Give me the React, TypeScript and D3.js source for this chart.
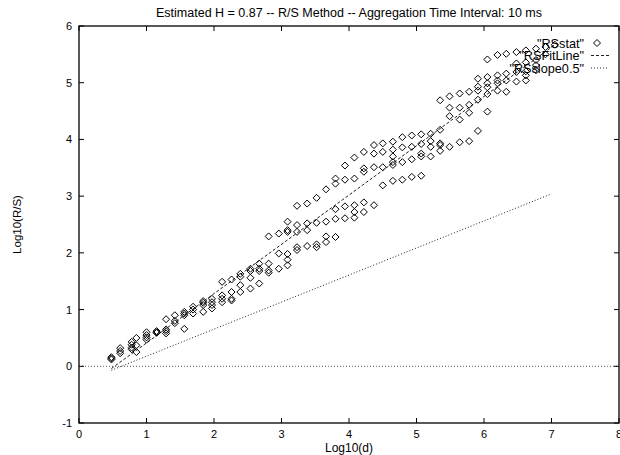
import React from "react";
import * as d3 from "d3";

const title = "Estimated H = 0.87 -- R/S Method -- Aggregation Time Interval: 10 ms";
const xTicks = [0, 1, 2, 3, 4, 5, 6, 7, 8];
const yTicks = [-1, 0, 1, 2, 3, 4, 5, 6];

// log10(d) columns and the R/S values observed at each
const logD = [
  0.48, 0.61, 0.78, 0.85, 1.0, 1.15, 1.29, 1.42, 1.56, 1.69, 1.84, 1.97, 2.12, 2.26, 2.39,
  2.54, 2.67, 2.81, 2.96, 3.09, 3.23, 3.38, 3.52, 3.66, 3.8, 3.94, 4.08, 4.22, 4.37, 4.5,
  4.65, 4.79, 4.93, 5.07, 5.21, 5.35, 5.49, 5.64, 5.78, 5.91, 6.05, 6.2, 6.33, 6.48, 6.62,
  6.77, 6.91, 7.05,
];
const logRS = [
  [0.14, 0.16, 0.12],
  [0.32, 0.27, 0.23],
  [0.43, 0.38, 0.3, 0.33],
  [0.5, 0.37, 0.25],
  [0.6, 0.51, 0.47, 0.55],
  [0.62, 0.59, 0.6],
  [0.83, 0.65, 0.58, 0.62],
  [0.9, 0.76, 0.8],
  [0.96, 0.9, 0.66, 0.93],
  [1.05, 0.93, 1.0],
  [1.15, 1.08, 0.96, 1.12],
  [1.19, 1.13, 1.08, 1.02],
  [1.49, 1.25, 1.19, 1.13],
  [1.53, 1.31, 1.19, 1.16],
  [1.63, 1.58, 1.43, 1.31],
  [1.72, 1.68, 1.56, 1.37],
  [1.81, 1.72, 1.68, 1.46],
  [2.29, 1.81, 1.69, 1.65],
  [2.34, 1.99, 1.72],
  [2.55, 2.4, 2.37, 1.98, 1.88, 1.78],
  [2.83, 2.49, 2.37, 2.1, 2.05],
  [2.87, 2.52, 2.4, 2.12],
  [2.97, 2.53, 2.1, 2.15],
  [3.12, 2.55, 2.29, 2.19],
  [3.31, 3.22, 2.77, 2.6, 2.28],
  [3.54, 3.29, 2.82, 2.61],
  [3.68, 3.31, 2.84, 2.72, 2.62],
  [3.78, 3.49, 3.43, 2.89, 2.72],
  [3.9, 3.75, 3.51, 2.84],
  [3.93, 3.78, 3.51, 3.19],
  [3.96, 3.82, 3.7, 3.6, 3.55, 3.27],
  [4.04, 3.86, 3.6, 3.29],
  [4.07, 3.87, 3.65, 3.34],
  [4.09, 3.92, 3.75, 3.7, 3.36],
  [4.1, 3.97, 3.87, 3.7],
  [4.69, 4.17, 3.93, 3.9, 3.8],
  [4.76, 4.56, 4.41, 3.87],
  [4.81, 4.56, 4.35, 3.95],
  [4.84, 4.61, 4.47, 3.97],
  [5.07, 4.93, 4.86, 4.7, 4.15],
  [5.41, 5.1, 4.99, 4.92, 4.8, 4.49],
  [5.49, 5.13, 5.04, 4.99, 4.86],
  [5.51, 5.16, 5.04, 4.84],
  [5.54, 5.34, 5.19, 5.02],
  [5.57, 5.36, 5.2, 5.13, 5.04],
  [5.6, 5.4, 5.31, 5.22],
  [5.63, 5.5],
  [5.67],
];
// fitted line (H = 0.87) and reference slope 0.5 line, endpoints in data units
const fitLine = [
  [0.48, -0.04],
  [7.05, 5.67],
];
const slopeHalfLine = [
  [0.48, -0.07],
  [7.0, 3.04],
];
const legendLabels = ['"RSstat"', '"RSFitLine"', '"RSslope0.5"'];

const W = 620;
const H = 455;
const left = 79;
const right = 619;
const top = 26;
const bottom = 423;
const font = "'Liberation Sans', Arial, Helvetica, sans-serif";

export default function App() {
  const x = d3.scaleLinear().domain([0, 8]).range([left, right]);
  const y = d3.scaleLinear().domain([-1, 6]).range([bottom, top]);
  const line = d3
    .line<number[]>()
    .x((d) => x(d[0]))
    .y((d) => y(d[1]));

  const points: [number, number][] = [];
  logD.forEach((d, i) => logRS[i].forEach((v) => points.push([d, v])));

  const diamond = (cx: number, cy: number, r = 3.5) =>
    `M${cx},${cy - r}L${cx + r},${cy}L${cx},${cy + r}L${cx - r},${cy}Z`;

  const tickLen = 5;
  const legendY = [43, 55.5, 68];
  const legendTextX = 584;
  const sampleX0 = 591;
  const sampleX1 = 609;

  return (
    <svg
      width={W}
      height={H}
      style={{ position: "absolute", left: 0, top: 0, background: "#fff" }}
      fontFamily={font}
    >
      <rect x={0} y={0} width={W} height={H} fill="#fff" />
      {/* zero axis */}
      <line
        x1={left}
        x2={right}
        y1={y(0)}
        y2={y(0)}
        stroke="#555"
        strokeWidth={1}
        strokeDasharray="1,2"
      />
      {/* ticks */}
      {xTicks.map((t) => (
        <g key={"xt" + t}>
          <line x1={x(t)} x2={x(t)} y1={bottom} y2={bottom - tickLen} stroke="#000" />
          <line x1={x(t)} x2={x(t)} y1={top} y2={top + tickLen} stroke="#000" />
          <text x={x(t)} y={bottom + 15} textAnchor="middle" fontSize={11}>
            {t}
          </text>
        </g>
      ))}
      {yTicks.map((t) => (
        <g key={"yt" + t}>
          <line x1={left} x2={left + tickLen} y1={y(t)} y2={y(t)} stroke="#000" />
          <line x1={right} x2={right - tickLen} y1={y(t)} y2={y(t)} stroke="#000" />
          <text x={left - 7} y={y(t) + 4} textAnchor="end" fontSize={11}>
            {t}
          </text>
        </g>
      ))}
      {/* border */}
      <rect
        x={left}
        y={top}
        width={right - left}
        height={bottom - top}
        fill="none"
        stroke="#000"
        strokeWidth={1.3}
      />
      {/* lines */}
      <path d={line(fitLine) || ""} fill="none" stroke="#222" strokeWidth={1} strokeDasharray="3,2" />
      <path
        d={line(slopeHalfLine) || ""}
        fill="none"
        stroke="#222"
        strokeWidth={1}
        strokeDasharray="1,2"
      />
      {/* points */}
      {points.map((p, i) => (
        <path key={"p" + i} d={diamond(x(p[0]), y(p[1]))} fill="none" stroke="#000" strokeWidth={1} />
      ))}
      {/* legend */}
      {legendLabels.map((l, i) => (
        <text key={"lg" + i} x={legendTextX} y={legendY[i] + 4.5} textAnchor="end" fontSize={12.7}>
          {l}
        </text>
      ))}
      <path d={diamond(597, legendY[0])} fill="none" stroke="#000" />
      <line
        x1={sampleX0}
        x2={sampleX1}
        y1={legendY[1]}
        y2={legendY[1]}
        stroke="#222"
        strokeDasharray="3,2"
      />
      <line
        x1={sampleX0}
        x2={sampleX1}
        y1={legendY[2]}
        y2={legendY[2]}
        stroke="#222"
        strokeDasharray="1,2"
      />
      {/* title and axis labels */}
      <text x={(left + right) / 2} y={17} textAnchor="middle" fontSize={12.5}>
        {title}
      </text>
      <text x={(left + right) / 2} y={452} textAnchor="middle" fontSize={12}>
        Log10(d)
      </text>
      <text
        transform={`translate(21, ${(top + bottom) / 2}) rotate(-90)`}
        textAnchor="middle"
        fontSize={11.5}
      >
        Log10(R/S)
      </text>
    </svg>
  );
}
